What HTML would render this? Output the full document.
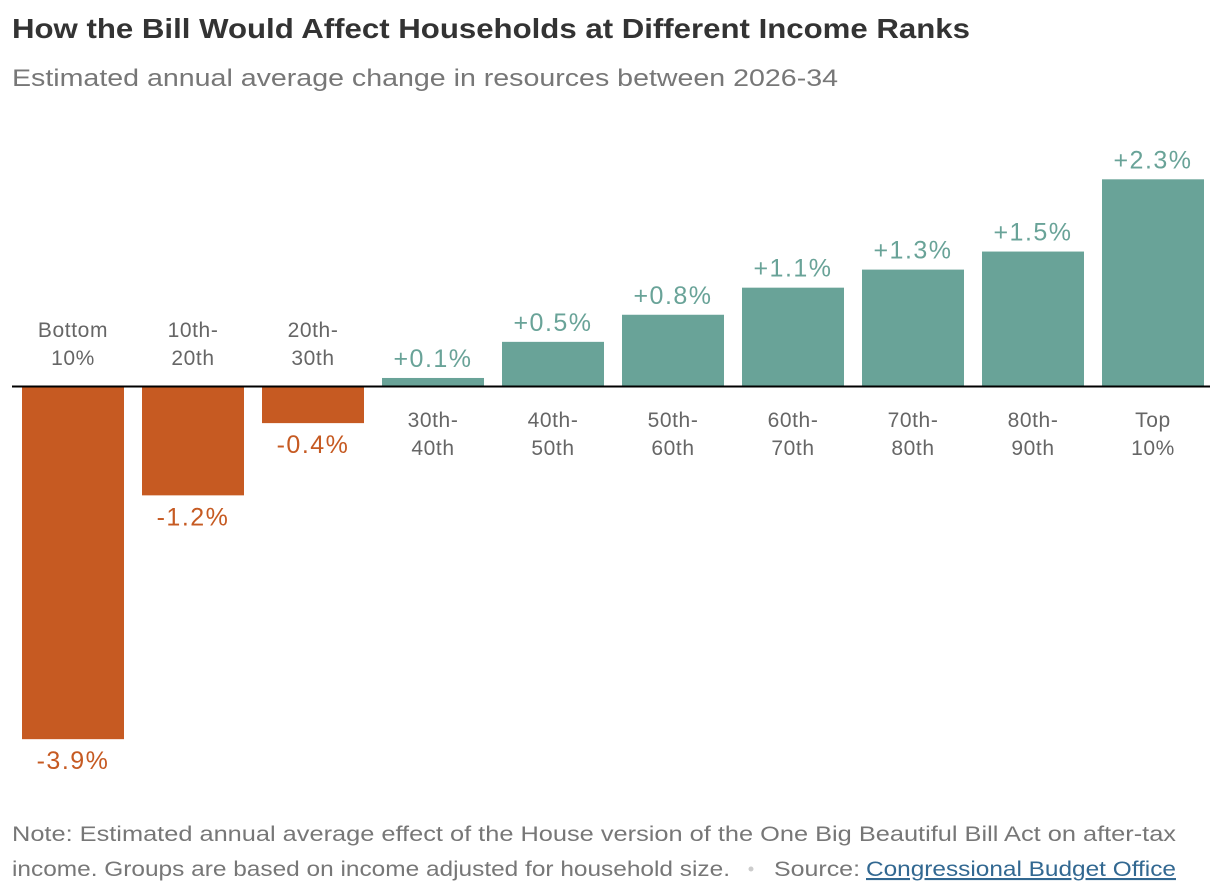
<!DOCTYPE html>
<html><head><meta charset="utf-8"><style>
body{margin:0;background:#fff;}
svg{display:block;font-family:"Liberation Sans",sans-serif;}
</style></head><body>
<svg id="chart" width="1222" height="886">
<text x="12" y="38" font-size="28" font-weight="bold" fill="#333" textLength="958" lengthAdjust="spacingAndGlyphs">How the Bill Would Affect Households at Different Income Ranks</text>
<text x="12" y="86" font-size="24" fill="#777" textLength="826" lengthAdjust="spacingAndGlyphs">Estimated annual average change in resources between 2026-34</text>
<g id="bars"></g>
<line x1="12" x2="1210" y1="386.5" y2="386.5" stroke="#000" stroke-width="2"/>
<text x="12" y="841" font-size="21" fill="#777" textLength="1164" lengthAdjust="spacingAndGlyphs">Note: Estimated annual average effect of the House version of the One Big Beautiful Bill Act on after-tax</text>
<text x="12" y="876" font-size="21" fill="#777" textLength="718" lengthAdjust="spacingAndGlyphs">income. Groups are based on income adjusted for household size.</text>
<circle cx="751" cy="869" r="2.5" fill="#ccc"/>
<text x="774" y="876" font-size="21" fill="#777" textLength="86" lengthAdjust="spacingAndGlyphs">Source:</text>
<text x="866" y="876" font-size="21" fill="#326891" text-decoration="underline" textLength="310" lengthAdjust="spacingAndGlyphs">Congressional Budget Office</text>
</svg>
<script>
const categories1=["Bottom","10th-","20th-","30th-","40th-","50th-","60th-","70th-","80th-","Top"];
const categories2=["10%","20th","30th","40th","50th","60th","70th","80th","90th","10%"];
const values=[-3.9,-1.2,-0.4,0.1,0.5,0.8,1.1,1.3,1.5,2.3];
const valueLabels=["-3.9%","-1.2%","-0.4%","+0.1%","+0.5%","+0.8%","+1.1%","+1.3%","+1.5%","+2.3%"];
const NS="http://www.w3.org/2000/svg";
const g=document.getElementById('bars');
const y0=387, pxPer=90.3;
const xPos=i=>22+i*120, bw=102;
const yS=v=>y0-v*pxPer;
function t(x,y,s,size,fill,ls){const e=document.createElementNS(NS,'text');e.setAttribute('x',x);e.setAttribute('y',y);e.setAttribute('font-size',size);e.setAttribute('fill',fill);e.setAttribute('text-anchor','middle');e.setAttribute('letter-spacing',ls);e.textContent=s;g.appendChild(e);return e;}
values.forEach((v,i)=>{
  const pos=v>=0, col=pos?'#69a398':'#c65a22';
  const r=document.createElementNS(NS,'rect');
  
  
  r.setAttribute('x',xPos(i));r.setAttribute('width',bw);
  r.setAttribute('y',Math.min(yS(v),y0));r.setAttribute('height',Math.abs(yS(v)-y0));
  r.setAttribute('fill',col);g.appendChild(r);
  const cx=xPos(i)+bw/2;
  const vl=t(cx,pos?yS(v)-11:yS(v)+30,valueLabels[i],25,col,1.5);
  
  
  const by=pos?427:337;
  const c1=t(cx,by,categories1[i],21,'#666',0.6);
  
  
  const c2=t(cx,by+28,categories2[i],21,'#666',0.6);
  
  
});
</script>
</body></html>
